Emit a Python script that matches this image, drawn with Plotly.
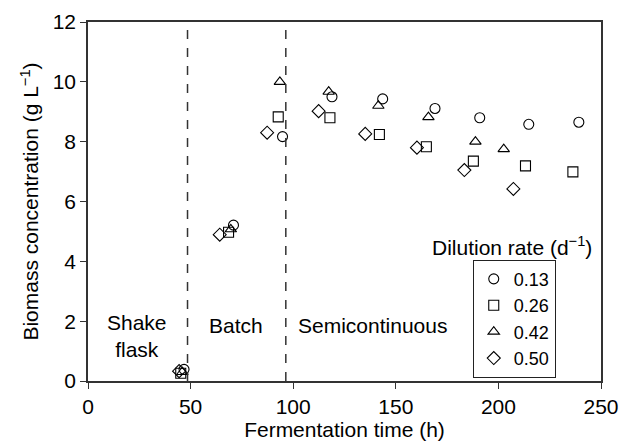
import plotly.graph_objects as go

series_names = ["0.13", "0.26", "0.42", "0.50"]
symbols = ["circle-open", "square-open", "triangle-up-open", "diamond-open"]

t_013 = [46.8, 70.9, 94.8, 118.9, 143.6, 169.1, 190.9, 214.8, 239.2]
x_013 = [0.39, 5.21, 8.17, 9.50, 9.43, 9.11, 8.80, 8.58, 8.65]

t_026 = [45.2, 68.5, 92.7, 117.9, 142.0, 164.9, 187.8, 213.2, 236.3]
x_026 = [0.26, 4.97, 8.83, 8.80, 8.24, 7.83, 7.35, 7.19, 6.99]

t_042 = [46.0, 69.6, 93.5, 117.3, 141.5, 165.9, 188.8, 202.6]
x_042 = [0.30, 5.07, 10.0, 9.67, 9.20, 8.82, 8.00, 7.75]

t_050 = [44.4, 64.2, 87.3, 112.4, 135.1, 160.3, 183.4, 207.3]
x_050 = [0.33, 4.89, 8.30, 9.02, 8.26, 7.80, 7.05, 6.42]

phase_bounds = [48.5, 96.4]

times = [t_013, t_026, t_042, t_050]
values = [x_013, x_026, x_042, x_050]

FONT = "Liberation Sans, Arial, sans-serif"
FS = 21

fig = go.Figure()
for name, sym, t, v in zip(series_names, symbols, times, values):
    fig.add_trace(go.Scatter(
        x=t, y=v, mode="markers", name=name,
        marker=dict(symbol=sym, size=10, color="black", line=dict(width=1.1, color="black")),
    ))

for xb in phase_bounds:
    fig.add_shape(type="line", xref="x", yref="paper", x0=xb, x1=xb, y0=0, y1=1,
                  line=dict(color="#333333", width=1.5, dash="dash"))

ann = dict(xref="x", yref="y", showarrow=False, font=dict(family=FONT, size=FS, color="black"))
fig.add_annotation(x=24, y=1.49, text="Shake<br>flask", align="center", **ann)
fig.add_annotation(x=72, y=1.87, text="Batch", **ann)
fig.add_annotation(x=101.5, y=1.87, text="Semicontinuous", xanchor="left", **ann)
fig.add_annotation(x=246.5, y=4.52, text="Dilution rate (d<sup>\u22121</sup>)", xanchor="right", **ann)

fig.update_layout(
    width=620, height=443,
    margin=dict(l=88, r=19, t=22, b=62),
    paper_bgcolor="white", plot_bgcolor="white",
    font=dict(family=FONT, size=FS, color="black"),
    showlegend=True,
    legend=dict(x=0.75, y=0.338, xanchor="left", yanchor="top",
                bordercolor="#222222", borderwidth=1, bgcolor="white",
                font=dict(size=18), tracegroupgap=0, itemwidth=30),
    xaxis=dict(range=[0, 250], tickvals=[0, 50, 100, 150, 200, 250],
               showline=True, linecolor="#333333", linewidth=1.5, mirror=True,
               ticks="outside", ticklen=6, tickcolor="#333333",
               showgrid=False, zeroline=False, automargin=False,
               title=dict(text="Fermentation time (h)", standoff=4, font=dict(size=FS))),
    yaxis=dict(range=[0, 12], tickvals=[0, 2, 4, 6, 8, 10, 12],
               showline=True, linecolor="#333333", linewidth=1.5, mirror=True,
               ticks="outside", ticklen=6, tickcolor="#333333",
               showgrid=False, zeroline=False, automargin=False,
               title=dict(text="Biomass concentration (g L<sup>\u22121</sup>)", standoff=8, font=dict(size=FS))),
)

fig.write_html(
    "out.html",
    config={"displayModeBar": False},
    post_script="document.body.style.margin='0';document.body.style.overflow='hidden';",
)
